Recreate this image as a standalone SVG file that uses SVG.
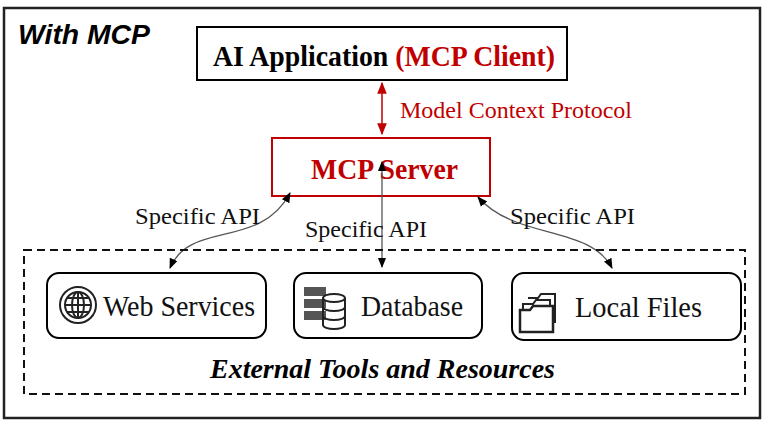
<svg xmlns="http://www.w3.org/2000/svg" width="768" height="431" viewBox="0 0 768 431">
<defs>
<marker id="ab" viewBox="0 0 10 10" refX="9" refY="5" markerWidth="8" markerHeight="8" orient="auto-start-reverse"><path d="M0,1 L10,5 L0,9 z" fill="#000"/></marker>
<marker id="ar" viewBox="0 0 10 10" refX="9" refY="5" markerWidth="8" markerHeight="8" orient="auto-start-reverse"><path d="M0,1 L10,5 L0,9 z" fill="#c00000"/></marker>
<style>
.s{font-family:"Liberation Serif",serif}
.n{fill:#fff;stroke:#000;stroke-width:2}
.t{font-size:30px;fill:#111}
.c{fill:none;stroke:#555;stroke-width:1.3}
.i{fill:none;stroke:#222;stroke-width:2}
</style>
</defs>
<rect x="0" y="0" width="768" height="431" fill="#fff"/>
<rect x="4" y="8" width="756" height="410" fill="none" stroke="#222" stroke-width="2.5"/>
<text x="18" y="44" font-family="Liberation Sans,sans-serif" font-weight="bold" font-style="italic" font-size="27" fill="#000" textLength="132" lengthAdjust="spacingAndGlyphs">With MCP</text>
<g id="client">
<rect x="197" y="27" width="370" height="53" class="n"/>
<text x="213" y="66" class="s" font-weight="bold" font-size="29" textLength="342" lengthAdjust="spacingAndGlyphs"><tspan fill="#000">AI Application </tspan><tspan fill="#c00000">(MCP Client)</tspan></text>
</g>
<g id="server">
<rect x="272" y="138" width="218" height="58" fill="#fff" stroke="#c00000" stroke-width="2"/>
<text x="311" y="179" class="s" font-weight="bold" font-size="30" fill="#c00000" textLength="147" lengthAdjust="spacingAndGlyphs">MCP Server</text>
</g>
<g id="connectors">
<line x1="382" y1="83" x2="382" y2="134" stroke="#c00000" stroke-width="1.5" marker-start="url(#ar)" marker-end="url(#ar)"/>
<path d="M170,268 C190,220 260,250 290,193" class="c" marker-start="url(#ab)" marker-end="url(#ab)"/>
<line x1="382" y1="267" x2="382" y2="162" class="c" stroke="#333" marker-start="url(#ab)" marker-end="url(#ab)"/>
<path d="M612,268 C590,225 515,240 478,197" class="c" marker-start="url(#ab)" marker-end="url(#ab)"/>
</g>
<text x="400" y="118" class="s" font-size="24" fill="#c00000" textLength="232" lengthAdjust="spacingAndGlyphs">Model Context Protocol</text>
<text x="135" y="224" class="s" font-size="24" fill="#111" textLength="125" lengthAdjust="spacingAndGlyphs">Specific API</text>
<text x="305" y="237" class="s" font-size="24" fill="#111" textLength="122" lengthAdjust="spacingAndGlyphs">Specific API</text>
<text x="510" y="224" class="s" font-size="24" fill="#111" textLength="125" lengthAdjust="spacingAndGlyphs">Specific API</text>
<g id="external">
<rect x="24" y="250" width="721" height="144" fill="none" stroke="#111" stroke-width="2" stroke-dasharray="8,5"/>
<text x="210" y="378" class="s" font-weight="bold" font-style="italic" font-size="28" fill="#000" textLength="345" lengthAdjust="spacingAndGlyphs">External Tools and Resources</text>
</g>
<g id="web">
<rect x="47" y="273" width="219" height="65" rx="12" class="n"/>
<circle cx="78" cy="305" r="18" class="i"/>
<circle cx="78" cy="305" r="13" class="i" stroke-width="1.5"/>
<ellipse cx="78" cy="305" rx="6" ry="13" class="i" stroke-width="1.5"/>
<line x1="65" y1="305" x2="91" y2="305" class="i" stroke-width="1.5"/>
<line x1="78" y1="292" x2="78" y2="318" class="i" stroke-width="1.5"/>
<line x1="67" y1="298" x2="89" y2="298" class="i" stroke-width="1.2"/>
<line x1="67" y1="312" x2="89" y2="312" class="i" stroke-width="1.2"/>
<text x="103" y="316" class="s t" textLength="152" lengthAdjust="spacingAndGlyphs">Web Services</text>
</g>
<g id="db">
<rect x="294" y="273" width="188" height="65" rx="12" class="n"/>
<rect x="304" y="287" width="22" height="9" fill="#555"/>
<rect x="304" y="299" width="22" height="9" fill="#555"/>
<rect x="304" y="311" width="22" height="9" fill="#555"/>
<ellipse cx="334" cy="298" rx="11" ry="4" fill="#fff" stroke="#222" stroke-width="2"/>
<path d="M323,298 V325 A11,4 0 0 0 345,325 V298 M323,307 A11,4 0 0 0 345,307 M323,316 A11,4 0 0 0 345,316" fill="none" stroke="#222" stroke-width="2"/>
<text x="361" y="316" class="s t" textLength="102" lengthAdjust="spacingAndGlyphs">Database</text>
</g>
<g id="files">
<rect x="512" y="273" width="229" height="67" rx="12" class="n"/>
<path d="M528,298 h10 l3,-4 h14 v28" class="i"/>
<path d="M523,304 h10 l3,-4 h14 v6 h5 v16 h-32 z" class="i" stroke-width="2.5"/>
<path d="M520,310 h10 l3,-4 h20 v26 h-33 z" fill="#fff" stroke="#222" stroke-width="2.5"/>
<text x="575" y="317" class="s t" textLength="127" lengthAdjust="spacingAndGlyphs">Local Files</text>
</g>
</svg>
